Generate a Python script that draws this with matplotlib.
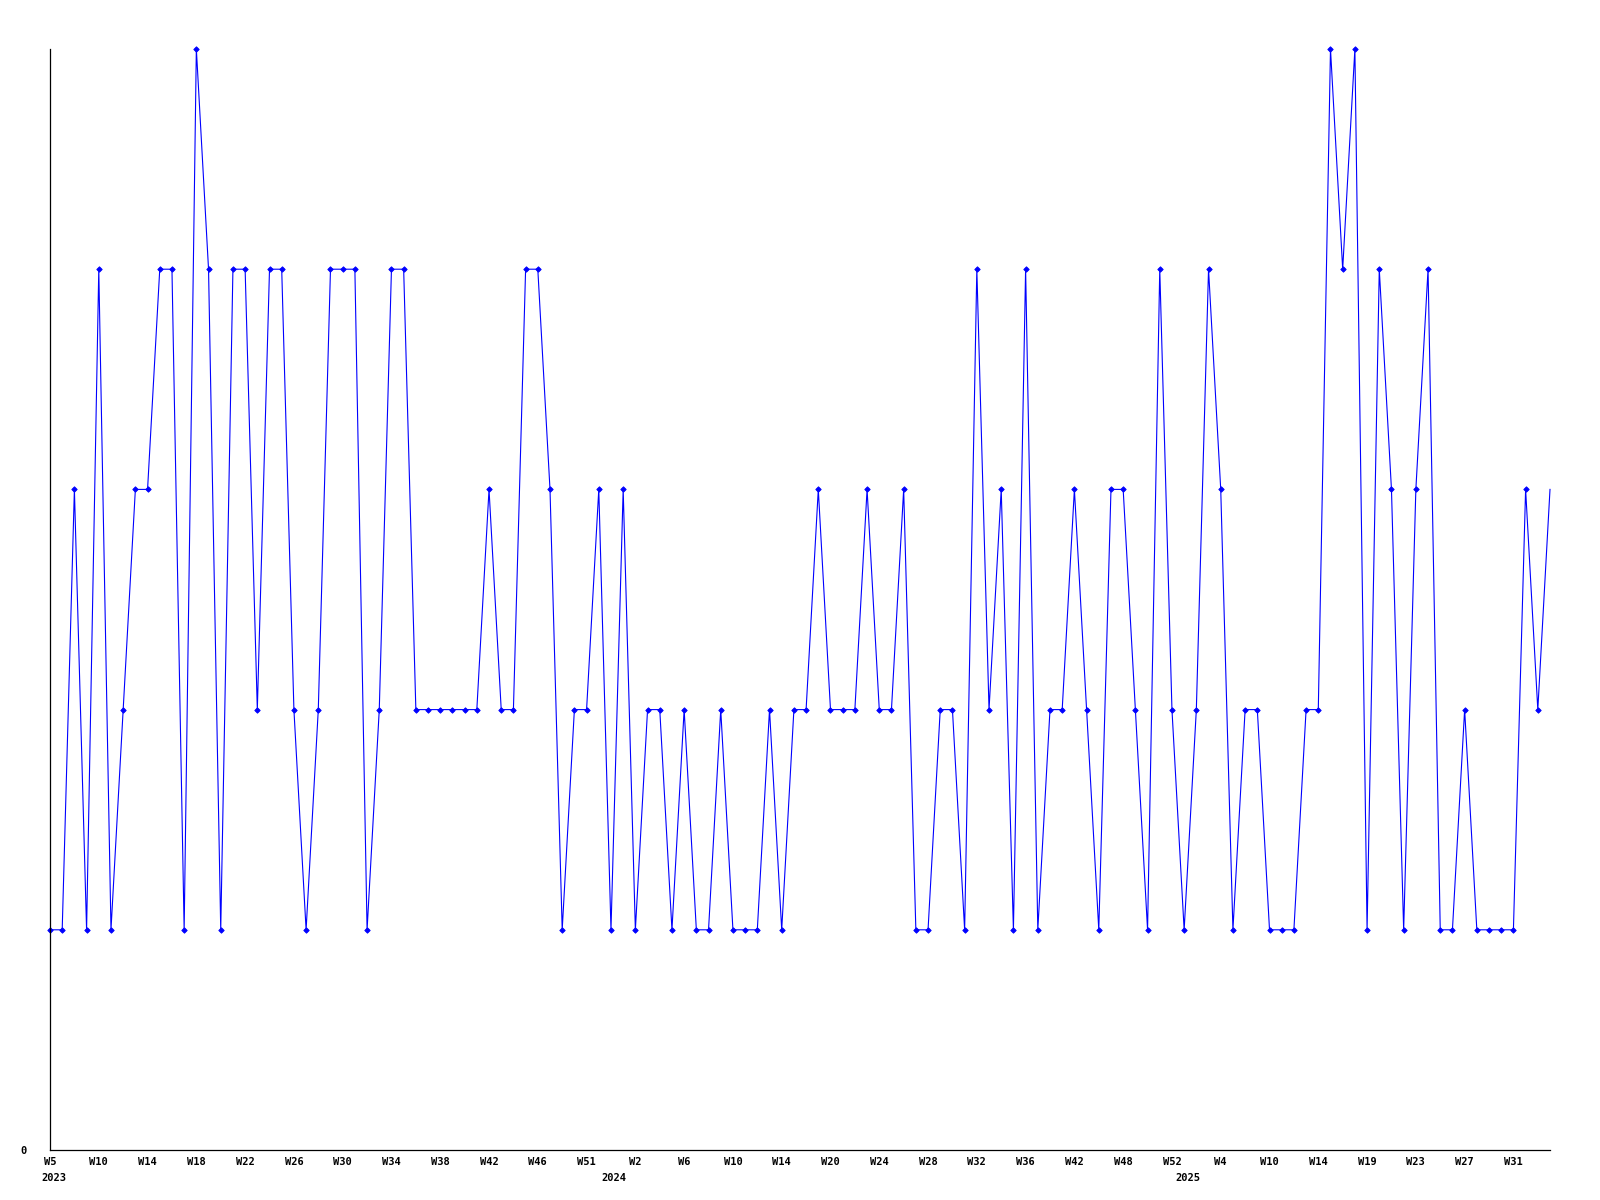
import matplotlib
matplotlib.use("Agg")
import matplotlib.pyplot as plt

# ---- data ----
values = [1, 1, 3, 1, 4, 1, 2, 3, 3, 4,
          4, 1, 5, 4, 1, 4, 4, 2, 4, 4,
          2, 1, 2, 4, 4, 4, 1, 2, 4, 4,
          2, 2, 2, 2, 2, 2, 3, 2, 2, 4,
          4, 3, 1, 2, 2, 3, 1, 3, 1, 2,
          2, 1, 2, 1, 1, 2, 1, 1, 1, 2,
          1, 2, 2, 3, 2, 2, 2, 3, 2, 2,
          3, 1, 1, 2, 2, 1, 4, 2, 3, 1,
          4, 1, 2, 2, 3, 2, 1, 3, 3, 2,
          1, 4, 2, 1, 2, 4, 3, 1, 2, 2,
          1, 1, 1, 2, 2, 5, 4, 5, 1, 4,
          3, 1, 3, 4, 1, 1, 2, 1, 1, 1,
          1, 3, 2, 3]

week_labels = ["W5", "W10", "W14", "W18", "W22", "W26", "W30", "W34", "W38",
               "W42", "W46", "W51", "W2", "W6", "W10", "W14", "W20", "W24",
               "W28", "W32", "W36", "W42", "W48", "W52", "W4", "W10", "W14",
               "W19", "W23", "W27", "W31"]
label_step = 4

year_labels = ["2023", "2024", "2025"]
year_positions = [0.3, 46.2, 93.3]

# ---- figure ----
fig = plt.figure(figsize=(16, 12), dpi=100)
ax = fig.add_axes([50 / 1600, 1 - 1150 / 1200, 1500 / 1600, (1150 - 49) / 1200])

x = list(range(len(values)))
ax.plot(x, values, color=(0, 0, 1), linewidth=0.8, marker="D", markersize=2.8,
        markeredgewidth=0.6, markerfacecolor=(0, 0, 1), markeredgecolor=(0, 0, 1),
        markevery=slice(0, len(values) - 1), clip_on=False)

ax.set_xlim(0, len(values) - 1)
ax.set_ylim(0, 5)

font = dict(family="DejaVu Sans Mono", weight="bold", size=7.5)

ax.set_xticks([i * label_step for i in range(len(week_labels))])
ax.set_xticklabels(week_labels, **font)
ax.tick_params(axis="x", length=0, pad=5)

ax.set_yticks([0])
ax.set_yticklabels(["0"], **font)
ax.tick_params(axis="y", length=0, pad=17)

for lab, pos in zip(year_labels, year_positions):
    ax.annotate(lab, xy=(pos, 0), xycoords=("data", "axes fraction"),
                xytext=(0, -23), textcoords="offset pixels",
                ha="center", va="top", **font)

for side in ("top", "right"):
    ax.spines[side].set_visible(False)
for side in ("left", "bottom"):
    ax.spines[side].set_linewidth(0.9)
    ax.spines[side].set_color("black")

fig.savefig("out.png", dpi=100)
